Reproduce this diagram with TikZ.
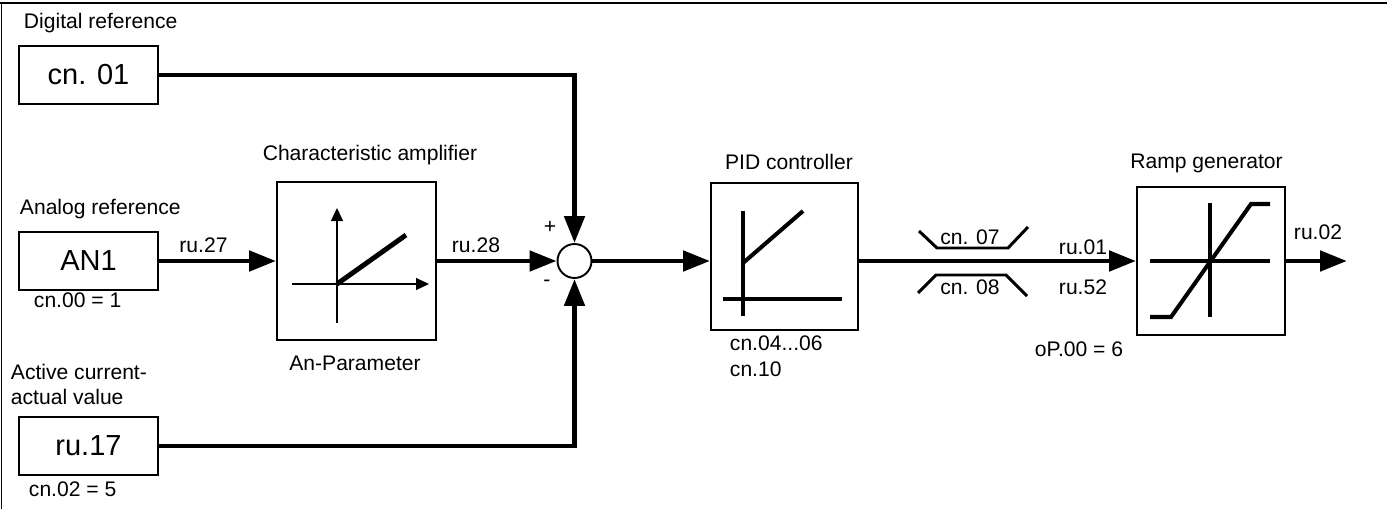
\documentclass[tikz,border=0pt]{standalone}
\usepackage{fontspec}
\setmainfont{Liberation Sans}
\usetikzlibrary{arrows.meta}

\begin{document}
\begin{tikzpicture}[line width=1.1pt,>={Triangle[length=0.54cm,width=0.4cm]},
  sig/.style={line width=2.8pt},
  valbox/.style={draw,line width=1.1pt,minimum width=2.78cm,minimum height=1.16cm,inner sep=0pt,font=\fontsize{16.5}{18}\selectfont},
  blk/.style={draw,line width=1.1pt,inner sep=0pt,minimum width=2.96cm,minimum height=2.96cm},
  lbl/.style={font=\fontsize{12}{14}\selectfont,inner sep=0pt},
  curve/.style={line width=2.3pt}]
\useasboundingbox (0,0) rectangle (27.74,10.18);
% 边框
\draw[line width=1.7pt] (0,10.12) -- (27.74,10.12);
\draw (0.03,10.12) -- (0.03,0);
% 输入
\node[lbl,anchor=west] (tdig) at (0.46,9.72) {Digital reference};
\node[valbox] (cn01) at (1.77,8.68) {cn. 01};
\node[lbl,anchor=west] (tana) at (0.38,6.00) {Analog reference};
\node[valbox] (an1) at (1.77,4.96) {AN1};
\node[lbl,anchor=west] (cn00) at (0.66,4.18) {cn.00 = 1};
\node[lbl,anchor=west] (tact1) at (0.2,2.74) {Active current-};
\node[lbl,anchor=west] (tact2) at (0.2,2.24) {actual value};
\node[valbox] (ru17) at (1.77,1.26) {ru.17};
\node[lbl,anchor=west] (cn02) at (0.56,0.40) {cn.02 = 5};
% 特性放大器
\node[blk,minimum width=3.18cm,minimum height=3.16cm] (amp) at (7.13,4.96) {};
\node[lbl] (tamp) at (7.40,7.08) {Characteristic amplifier};
\node[lbl] (anpar) at (7.10,2.92) {An-Parameter};
\node[lbl] (ru27) at (4.07,5.28) {ru.27};
\draw[line width=0.6pt,-{Triangle[length=0.26cm,width=0.24cm]}] (6.74,3.72) -- (6.74,6.02);
\draw[line width=0.6pt,-{Triangle[length=0.26cm,width=0.24cm]}] (5.84,4.50) -- (8.58,4.50);
\draw[sig] (6.74,4.50) -- (8.12,5.48);
% 求和点
\node[circle,draw,inner sep=0pt,minimum size=0.68cm] (sum) at (11.49,4.96) {};
\node[lbl] (plus) at (11.0,5.64) {+};
\node[lbl] (minus) at (10.94,4.52) {-};
\node[lbl] (ru28) at (9.52,5.28) {ru.28};
% PID 调节器
\node[blk,minimum width=2.94cm,minimum height=2.94cm] (pid) at (15.69,5.05) {};
\node[lbl] (tpid) at (15.78,6.94) {PID controller};
\node[lbl,anchor=west] (cn04) at (14.58,3.32) {cn.04...06};
\node[lbl,anchor=west] (cn10) at (14.58,2.80) {cn.10};
\draw[curve] (14.86,5.96) -- (14.86,3.86);
\draw[curve] (14.46,4.20) -- (16.84,4.20);
\draw[curve] (14.86,4.92) -- (16.06,5.96);
% 限幅
\draw[line width=1.7pt] (18.38,5.56) -- (18.74,5.22) -- (20.16,5.22) -- (20.56,5.64);
\node[lbl] (cn07) at (19.40,5.44) {cn. 07};
\draw[line width=1.7pt] (18.36,4.32) -- (18.72,4.68) -- (20.12,4.68) -- (20.54,4.26);
\node[lbl] (cn08) at (19.40,4.44) {cn. 08};
\node[lbl] (ru01) at (21.66,5.24) {ru.01};
\node[lbl] (ru52) at (21.66,4.44) {ru.52};
\node[lbl] (op00) at (21.58,3.20) {oP.00 = 6};
% 斜坡发生器
\node[blk] (ramp) at (24.22,4.96) {};
\node[lbl] (tramp) at (24.13,6.92) {Ramp generator};
\node[lbl] (ru02) at (26.36,5.54) {ru.02};
\draw[curve] (23.0,4.96) -- (25.4,4.96);
\draw[curve] (24.2,6.12) -- (24.2,3.84);
\draw[curve] (23.0,3.84) -- (23.42,3.84) -- (25.02,6.10) -- (25.4,6.10);
\coordinate (out) at (26.94,4.96);
% 信号线
\draw[sig,->] (cn01.east) -| (sum.north);
\draw[sig,->] (ru17.east) -| (sum.south);
\draw[sig,->] (an1) -- (amp);
\draw[sig,->] (amp) -- (sum);
\draw[sig,->] (sum) -- (sum -| pid.west);
\draw[sig,->] (pid.east |- sum) -- (ramp);
\draw[sig,->] (ramp) -- (out);
\end{tikzpicture}
\end{document}
